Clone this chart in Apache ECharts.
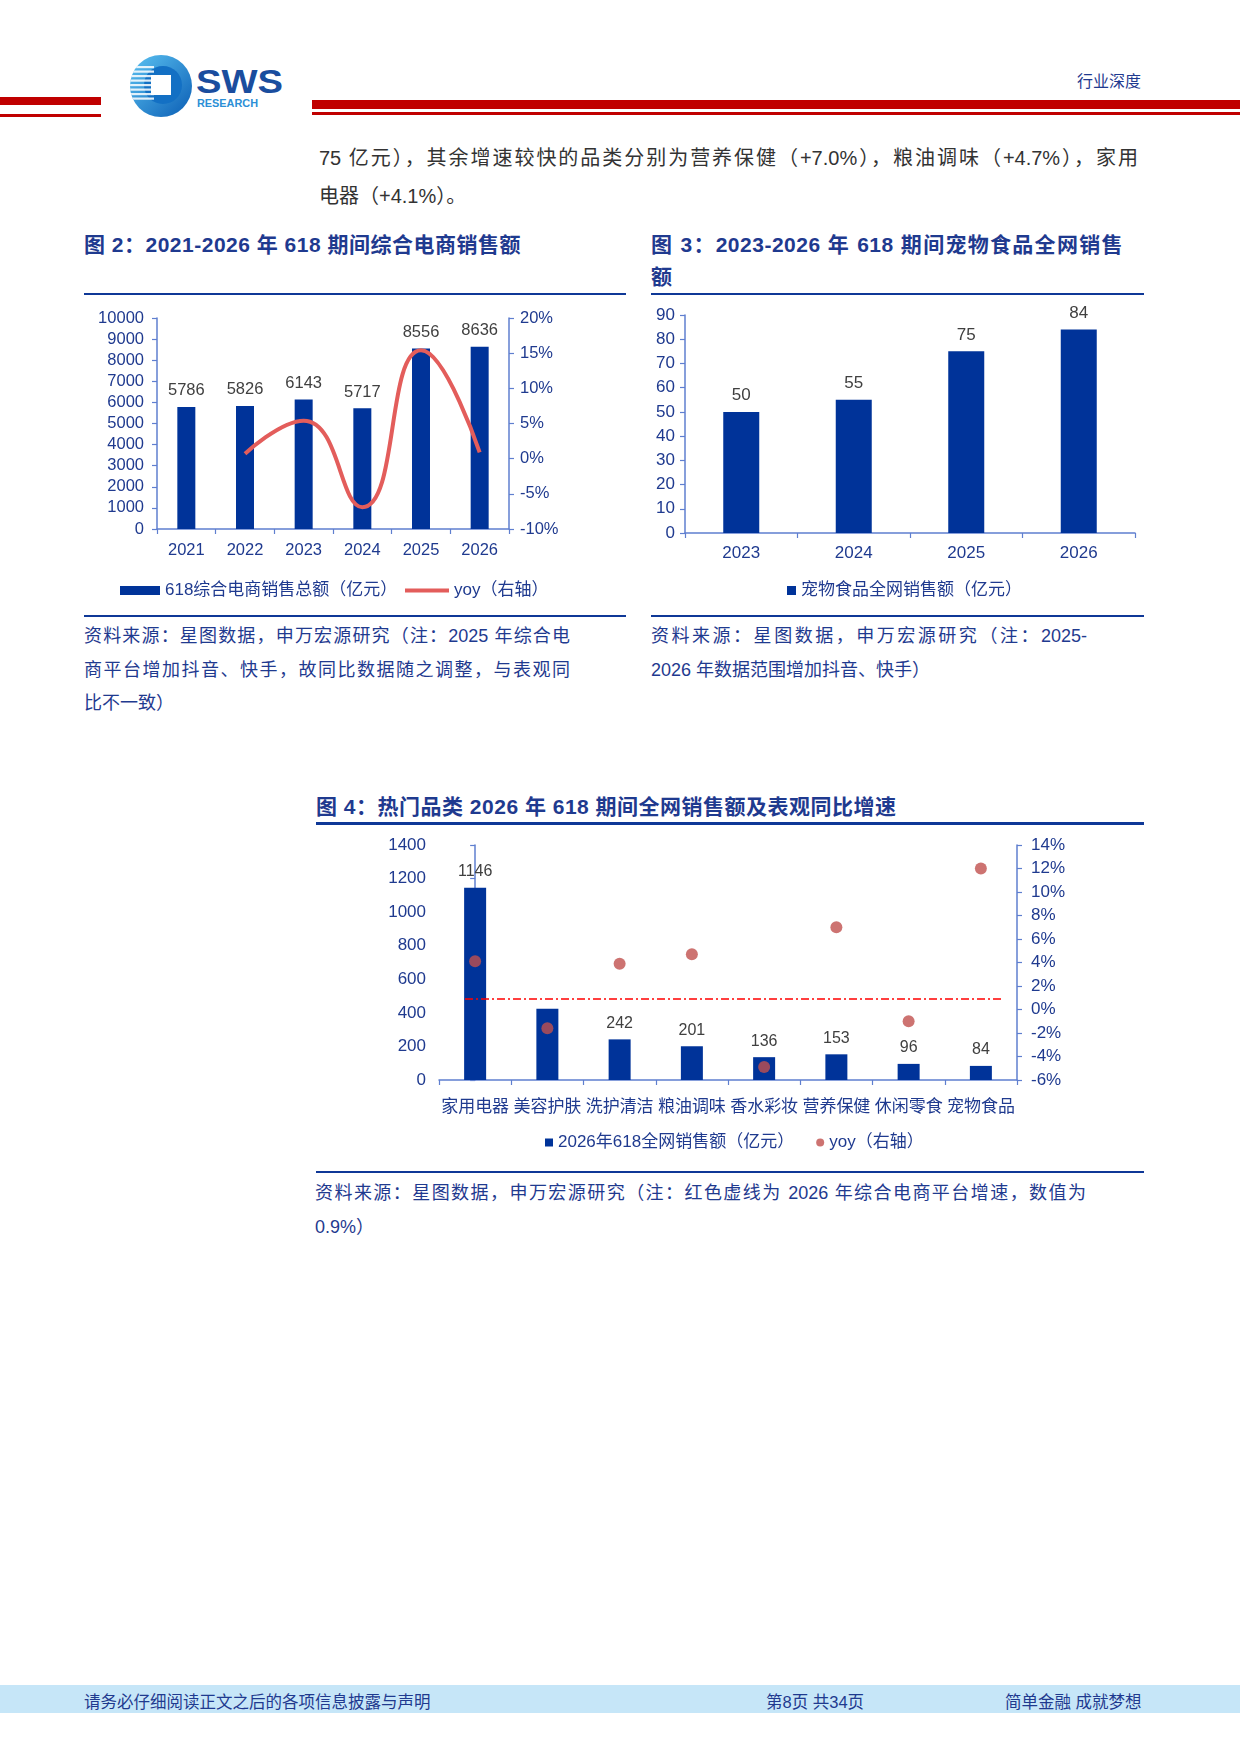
<!DOCTYPE html>
<html><head><meta charset="utf-8">
<script src="https://cdn.jsdelivr.net/npm/echarts@6/dist/echarts.min.js"></script>
<style>
html,body{margin:0;padding:0;background:#fff}
body{width:1240px;height:1753px;position:relative;overflow:hidden;font-family:"Liberation Sans","Noto Sans CJK SC",sans-serif}
.abs{position:absolute}
.navy{color:#1f3a8f}
.title{font-size:21px;font-weight:bold;letter-spacing:0.5px;line-height:32px;color:#1f3a8f}
.rule{position:absolute;background:#0f3897;height:2px}
.src{font-size:18px;letter-spacing:0;color:#1f3a8f}
.just{text-align:justify;text-align-last:justify}
</style></head>
<body>
<!-- header -->
<div class="abs" style="left:0;top:97px;width:101px;height:8px;background:#c00000"></div>
<div class="abs" style="left:0;top:114px;width:101px;height:3px;background:#c00000"></div>
<div class="abs" style="left:312px;top:100px;width:928px;height:9px;background:#c00000"></div>
<div class="abs" style="left:312px;top:112px;width:928px;height:3px;background:#c00000"></div>
<svg class="abs" style="left:125px;top:50px" width="170" height="72" viewBox="125 50 170 72">
 <defs>
  <linearGradient id="lg" x1="0" y1="0" x2="1" y2="1"><stop offset="0" stop-color="#5cc3f2"/><stop offset="1" stop-color="#0a5db4"/></linearGradient>
  <clipPath id="cp"><circle cx="161" cy="86" r="31"/></clipPath>
 </defs>
 <circle cx="161" cy="86" r="31" fill="url(#lg)"/>
 <circle cx="163" cy="85" r="19" fill="#1370c4"/>
 <g clip-path="url(#cp)" fill="#ffffff" opacity="0.85">
  <rect x="128" y="66" width="26" height="2.2"/><rect x="128" y="70.5" width="26" height="2.2"/>
  <rect x="128" y="75" width="26" height="2.2"/><rect x="128" y="79.5" width="26" height="2.2"/>
  <rect x="128" y="84" width="26" height="2.2"/><rect x="128" y="88.5" width="26" height="2.2"/>
  <rect x="128" y="93" width="26" height="2.2"/><rect x="128" y="97.5" width="26" height="2.2"/>
 </g>
 <rect x="151" y="75" width="20" height="20" fill="#ffffff"/>
 <text x="196" y="93" font-size="33" font-weight="bold" fill="#1a4d9e" font-family="Liberation Sans" textLength="87" lengthAdjust="spacingAndGlyphs">SWS</text>
 <text x="197" y="107" font-size="11" font-weight="bold" fill="#2b8fd6" font-family="Liberation Sans" textLength="61" lengthAdjust="spacingAndGlyphs">RESEARCH</text>
</svg>
<div class="abs navy" style="left:1077px;top:72px;font-size:16px;line-height:20px">行业深度</div>

<!-- body text -->
<div class="abs" style="left:319px;top:139px;width:819px;font-size:20px;line-height:38px;color:#333">
 <div class="just">75 亿元），其余增速较快的品类分别为营养保健（+7.0%），粮油调味（+4.7%），家用</div>
 <div>电器（+4.1%）。</div>
</div>

<!-- figure 2 -->
<div class="abs title" style="left:84px;top:229px">图 2：2021-2026 年 618 期间综合电商销售额</div>
<div class="rule" style="left:84px;top:293px;width:542px"></div>
<div id="c2" class="abs" style="left:84px;top:300px;width:546px;height:310px"></div>
<div class="rule" style="left:84px;top:615px;width:542px"></div>
<div class="abs src" style="left:84px;top:620px;width:486px;line-height:33.5px">
 <div class="just">资料来源：星图数据，申万宏源研究（注：2025 年综合电</div>
 <div class="just">商平台增加抖音、快手，故同比数据随之调整，与表观同</div>
 <div>比不一致）</div>
</div>

<!-- figure 3 -->
<div class="abs title" style="left:651px;top:229px;width:472px">
 <div class="just">图 3：2023-2026 年 618 期间宠物食品全网销售</div>
 <div>额</div>
</div>
<div class="rule" style="left:651px;top:293px;width:493px"></div>
<div id="c3" class="abs" style="left:651px;top:300px;width:493px;height:310px"></div>
<div class="rule" style="left:651px;top:615px;width:493px"></div>
<div class="abs src" style="left:651px;top:620px;width:436px;line-height:33.5px">
 <div class="just">资料来源：星图数据，申万宏源研究（注：2025-</div>
 <div>2026 年数据范围增加抖音、快手）</div>
</div>

<!-- figure 4 -->
<div class="abs title" style="left:316px;top:791px">图 4：热门品类 2026 年 618 期间全网销售额及表观同比增速</div>
<div class="rule" style="left:316px;top:822px;width:828px;height:3px"></div>
<div id="c4" class="abs" style="left:316px;top:830px;width:828px;height:335px"></div>
<div class="rule" style="left:316px;top:1171px;width:828px"></div>
<div class="abs src" style="left:315px;top:1176px;width:771px;line-height:34px">
 <div class="just">资料来源：星图数据，申万宏源研究（注：红色虚线为 2026 年综合电商平台增速，数值为</div>
 <div>0.9%）</div>
</div>

<!-- footer -->
<div class="abs" style="left:0;top:1685px;width:1240px;height:28px;background:#c6e6f8"></div>
<div class="abs navy" style="left:84px;top:1691px;font-size:16.5px;line-height:22px">请务必仔细阅读正文之后的各项信息披露与声明</div>
<div class="abs navy" style="left:766px;top:1691px;font-size:16.5px;line-height:22px">第8页 共34页</div>
<div class="abs navy" style="left:1005px;top:1691px;font-size:16.5px;line-height:22px">简单金融 成就梦想</div>

<script>
const FONT='"Liberation Sans","Noto Sans CJK SC",sans-serif';
const NAVY='#1f3a8f', AXIS='#5f7fcf', BAR='#003399', LABEL='#404040';

// ---- Figure 2 data ----
const years2=['2021','2022','2023','2024','2025','2026'];
const sales2=[5786,5826,6143,5717,8556,8636];
const yoy2=[null,0.7,5.4,-6.9,15.4,0.9];
const salesAxis2=[0,10000,1000];
const yoyAxis2=[-10,20,5];

// ---- Figure 3 data ----
const years3=['2023','2024','2025','2026'];
const pet3=[50,55,75,84];
const petAxis3=[0,90,10];

// ---- Figure 4 data ----
const cats4=['家用电器','美容护肤','洗护清洁','粮油调味','香水彩妆','营养保健','休闲零食','宠物食品'];
const sales4=[1146,425,242,201,136,153,96,84];
const showLabel4=[true,false,true,true,true,true,true,true];
const yoy4=[4.1,-1.6,3.9,4.7,-4.9,7.0,-1.0,12.0];
const platformYoy4=0.9;
const salesAxis4=[0,1400,200];
const yoyAxis4=[-6,14,2];

const plain=v=>String(v);
const pct=v=>v+'%';
function axLine(){return {show:true,lineStyle:{color:AXIS,width:1.5}};}
function axTick(){return {show:true,length:5,lineStyle:{color:AXIS,width:1.2}};}

// Figure 2
const c2=echarts.init(document.getElementById('c2'));
c2.setOption({
 animation:false,
 textStyle:{fontFamily:FONT},
 grid:{left:73,top:18,width:352,height:211},
 legend:[
  {data:[{name:'618综合电商销售总额（亿元）',icon:'rect'}],left:31,top:277,itemWidth:40,itemHeight:9,itemGap:5,
   textStyle:{color:NAVY,fontSize:17,fontFamily:FONT}},
  {data:[{name:'yoy（右轴）',icon:'rect'}],left:316,top:277,itemWidth:44,itemHeight:4,
   textStyle:{color:NAVY,fontSize:17,fontFamily:FONT}}
 ],
 xAxis:{type:'category',data:years2,axisLine:axLine(),axisTick:axTick(),
   axisLabel:{color:NAVY,fontSize:16.5,margin:13,fontFamily:FONT}},
 yAxis:[
  {type:'value',min:salesAxis2[0],max:salesAxis2[1],interval:salesAxis2[2],axisLine:axLine(),axisTick:axTick(),
   splitLine:{show:false},axisLabel:{color:NAVY,fontSize:16.5,margin:13,formatter:plain,fontFamily:FONT}},
  {type:'value',position:'right',min:yoyAxis2[0],max:yoyAxis2[1],interval:yoyAxis2[2],axisLine:axLine(),axisTick:axTick(),
   splitLine:{show:false},axisLabel:{color:NAVY,fontSize:16.5,margin:11,formatter:pct,fontFamily:FONT}}
 ],
 series:[
  {type:'bar',name:'618综合电商销售总额（亿元）',data:sales2,barWidth:18,itemStyle:{color:BAR},
   label:{show:true,position:'top',distance:8,color:LABEL,fontSize:16.5,fontFamily:FONT}},
  {type:'line',name:'yoy（右轴）',yAxisIndex:1,data:yoy2,smooth:0.5,showSymbol:false,
   lineStyle:{color:'#e35d5b',width:4},itemStyle:{color:'#e35d5b'},z:5}
 ]
});

// Figure 3
const c3=echarts.init(document.getElementById('c3'));
c3.setOption({
 animation:false,
 textStyle:{fontFamily:FONT},
 grid:{left:34,top:15,width:450,height:218},
 legend:{data:[{name:'宠物食品全网销售额（亿元）',icon:'rect'}],left:131,top:277,itemWidth:9,itemHeight:9,
   textStyle:{color:NAVY,fontSize:17,fontFamily:FONT}},
 xAxis:{type:'category',data:years3,axisLine:axLine(),axisTick:axTick(),
   axisLabel:{color:NAVY,fontSize:17,margin:12,fontFamily:FONT}},
 yAxis:{type:'value',min:petAxis3[0],max:petAxis3[1],interval:petAxis3[2],axisLine:axLine(),axisTick:axTick(),
   splitLine:{show:false},axisLabel:{color:NAVY,fontSize:17,margin:10,formatter:plain,fontFamily:FONT}},
 series:[{type:'bar',name:'宠物食品全网销售额（亿元）',data:pet3,barWidth:36,itemStyle:{color:BAR},
   label:{show:true,position:'top',distance:8,color:LABEL,fontSize:17,fontFamily:FONT}}]
});

// Figure 4
const c4=echarts.init(document.getElementById('c4'));
c4.setOption({
 animation:false,
 textStyle:{fontFamily:FONT},
 grid:{left:123,top:15,width:578,height:235},
 legend:{data:[{name:'2026年618全网销售额（亿元）',icon:'rect'},{name:'yoy（右轴）',icon:'circle'}],
   left:224,top:299,itemWidth:8,itemHeight:8,itemGap:22,textStyle:{color:NAVY,fontSize:17,fontFamily:FONT}},
 xAxis:[
  {type:'category',data:cats4,axisLine:axLine(),axisTick:axTick(),
   axisLabel:{color:NAVY,fontSize:17,margin:19,interval:0,fontFamily:FONT}},
  {type:'value',min:-0.5,max:7.5,show:false}
 ],
 yAxis:[
  {type:'value',min:salesAxis4[0],max:salesAxis4[1],interval:salesAxis4[2],axisLine:axLine(),axisTick:axTick(),
   splitLine:{show:false},axisLabel:{color:NAVY,fontSize:17,margin:13,formatter:plain,fontFamily:FONT}},
  {type:'value',position:'right',min:yoyAxis4[0],max:yoyAxis4[1],interval:yoyAxis4[2],axisLine:axLine(),axisTick:axTick(),
   splitLine:{show:false},axisLabel:{color:NAVY,fontSize:17,margin:14,formatter:pct,fontFamily:FONT}}
 ],
 series:[
  {type:'bar',name:'2026年618全网销售额（亿元）',data:sales4.map((v,i)=>({value:v,label:{show:showLabel4[i]}})),
   barWidth:22,itemStyle:{color:BAR},
   label:{show:true,position:'top',distance:8,color:LABEL,fontSize:16,fontFamily:FONT}},
  {type:'line',name:'ref',xAxisIndex:1,yAxisIndex:1,data:[[-0.14,platformYoy4],[7.32,platformYoy4]],
   showSymbol:false,lineStyle:{color:'#ff0000',width:1.6,type:[8,3,2,3]},z:4,silent:true},
  {type:'scatter',name:'yoy（右轴）',yAxisIndex:1,data:yoy4,symbolSize:12,itemStyle:{color:'#c0504d'},z:6}
 ]
});
</script>
</body></html>
